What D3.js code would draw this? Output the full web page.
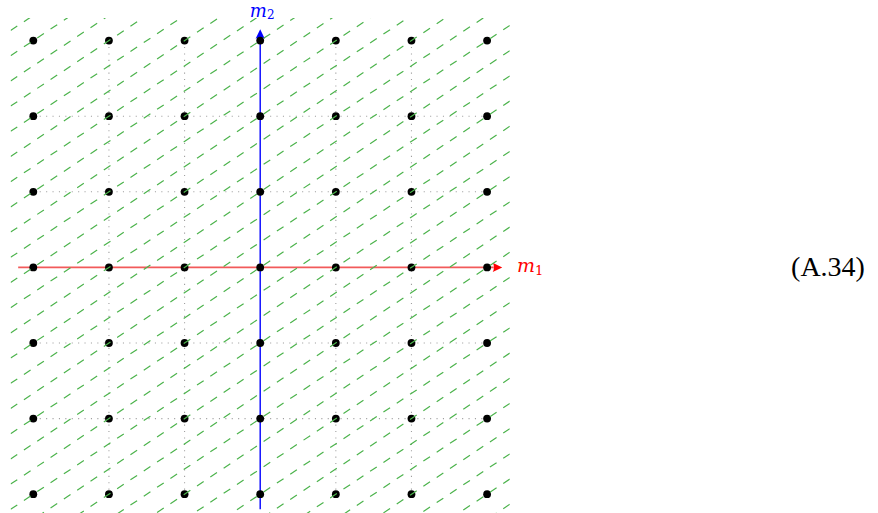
<!DOCTYPE html>
<html>
<head>
<meta charset="utf-8">
<script src="https://cdn.jsdelivr.net/npm/d3@7"></script>
<style>
  body { margin: 0; background: #fff; }
  svg { display: block; }
</style>
</head>
<body>
<div id="field"></div>
<script>
// lattice values along each axis
const m1Values = [-3, -2, -1, 0, 1, 2, 3];
const m2Values = [-3, -2, -1, 0, 1, 2, 3];
// dotted guide lines (0 sits under the axes)
const gridValues = [-2, -1, 1, 2];
// green lines m2 = slope * m1 + k/3
const lineSlope = 2 / 3;
const lineNumerators = [-17, -16, -15, -14, -13, -12, -11, -10, -9, -8, -7, -6, -5, -4, -3, -2, -1,
    0, 1, 2, 3, 4, 5, 6, 7, 8, 9, 10, 11, 12, 13, 14, 15, 16, 17];
const equationLabel = "(A.34)";

const width = 878;
const height = 513;

// one unit = 1cm in the original
const x = d3.scaleLinear().domain([-3, 3]).range([33.3, 487.1]);
const y = d3.scaleLinear().domain([-3, 3]).range([494.2, 40.6]);

const clipLo = -3.3, clipHi = 3.3;
const axisLo = -3.2, m1AxisHi = 3.2, m2AxisHi = 3.15;

const svg = d3.select("#field")
    .append("svg")
    .attr("width", width)
    .attr("height", height);

svg.append("defs").append("clipPath")
    .attr("id", "clip")
    .append("rect")
    .attr("x", x(clipLo))
    .attr("y", y(clipHi))
    .attr("width", x(clipHi) - x(clipLo))
    .attr("height", y(clipLo) - y(clipHi));

// dotted grid
const grid = svg.append("g").attr("class", "grid");

grid.selectAll("line.v")
    .data(gridValues)
    .enter().append("line")
    .attr("class", "v")
    .attr("x1", function(d) { return x(d); })
    .attr("x2", function(d) { return x(d); })
    .attr("y1", y(3))
    .attr("y2", y(-3));

grid.selectAll("line.h")
    .data(gridValues)
    .enter().append("line")
    .attr("class", "h")
    .attr("x1", x(-3))
    .attr("x2", x(3))
    .attr("y1", function(d) { return y(d); })
    .attr("y2", function(d) { return y(d); });

grid.selectAll("line")
    .attr("stroke", "#a0a0a0")
    .attr("stroke-width", 1.1)
    .attr("stroke-dasharray", "1.1,5.3");

// axes
const arrowLen = 9.5, arrowHalf = 4.6;

svg.append("line")
    .attr("x1", x(axisLo))
    .attr("x2", x(m1AxisHi) - arrowLen + 1)
    .attr("y1", y(0))
    .attr("y2", y(0))
    .attr("stroke", "#f25a5a")
    .attr("stroke-width", 1.8);

svg.append("path")
    .attr("d", "M" + x(m1AxisHi) + "," + y(0) +
        "L" + (x(m1AxisHi) - arrowLen) + "," + (y(0) - arrowHalf) +
        "Q" + (x(m1AxisHi) - arrowLen + 2.5) + "," + y(0) + " " + (x(m1AxisHi) - arrowLen) + "," + (y(0) + arrowHalf) + "Z")
    .attr("fill", "#ff0000");

svg.append("line")
    .attr("x1", x(0))
    .attr("x2", x(0))
    .attr("y1", y(axisLo))
    .attr("y2", y(m2AxisHi) + arrowLen - 1)
    .attr("stroke", "#0000ff")
    .attr("stroke-width", 1.4);

svg.append("path")
    .attr("d", "M" + x(0) + "," + y(m2AxisHi) +
        "L" + (x(0) - arrowHalf) + "," + (y(m2AxisHi) + arrowLen) +
        "Q" + x(0) + "," + (y(m2AxisHi) + arrowLen - 2.5) + " " + (x(0) + arrowHalf) + "," + (y(m2AxisHi) + arrowLen) + "Z")
    .attr("fill", "#0000ff");

// lattice points
const points = [];
m1Values.forEach(function(a) {
    m2Values.forEach(function(b) {
        points.push({m1: a, m2: b});
    });
});

svg.append("g").selectAll("circle")
    .data(points)
    .enter().append("circle")
    .attr("cx", function(d) { return x(d.m1); })
    .attr("cy", function(d) { return y(d.m2); })
    .attr("r", 3.9)
    .attr("fill", "#000");

// green dashed family, drawn from the left clip edge
svg.append("g")
    .attr("clip-path", "url(#clip)")
    .selectAll("line")
    .data(lineNumerators)
    .enter().append("line")
    .attr("x1", x(clipLo))
    .attr("y1", function(k) { return y(lineSlope * clipLo + k / 3); })
    .attr("x2", x(clipHi))
    .attr("y2", function(k) { return y(lineSlope * clipHi + k / 3); })
    .attr("stroke", "#4cb34c")
    .attr("stroke-width", 1.2)
    .attr("stroke-dasharray", "8,8");

// labels
const m1Label = svg.append("text")
    .attr("x", 517)
    .attr("y", y(0) + 5)
    .attr("fill", "#ff0000")
    .attr("font-family", "DejaVu Serif")
    .attr("font-size", 19);
m1Label.append("tspan").attr("font-style", "italic").text("m");
m1Label.append("tspan").attr("font-size", 13).attr("dy", 3).text("1");

const m2Label = svg.append("text")
    .attr("x", x(0) + 2)
    .attr("y", 17)
    .attr("text-anchor", "middle")
    .attr("fill", "#0000ff")
    .attr("font-family", "DejaVu Serif")
    .attr("font-size", 18);
m2Label.append("tspan").attr("font-style", "italic").text("m");
m2Label.append("tspan").attr("font-size", 12).attr("dy", 2).text("2");

svg.append("text")
    .attr("x", 828)
    .attr("y", y(0) + 9)
    .attr("text-anchor", "middle")
    .attr("font-family", "Liberation Serif")
    .attr("font-size", 28)
    .text(equationLabel);
</script>
</body>
</html>
